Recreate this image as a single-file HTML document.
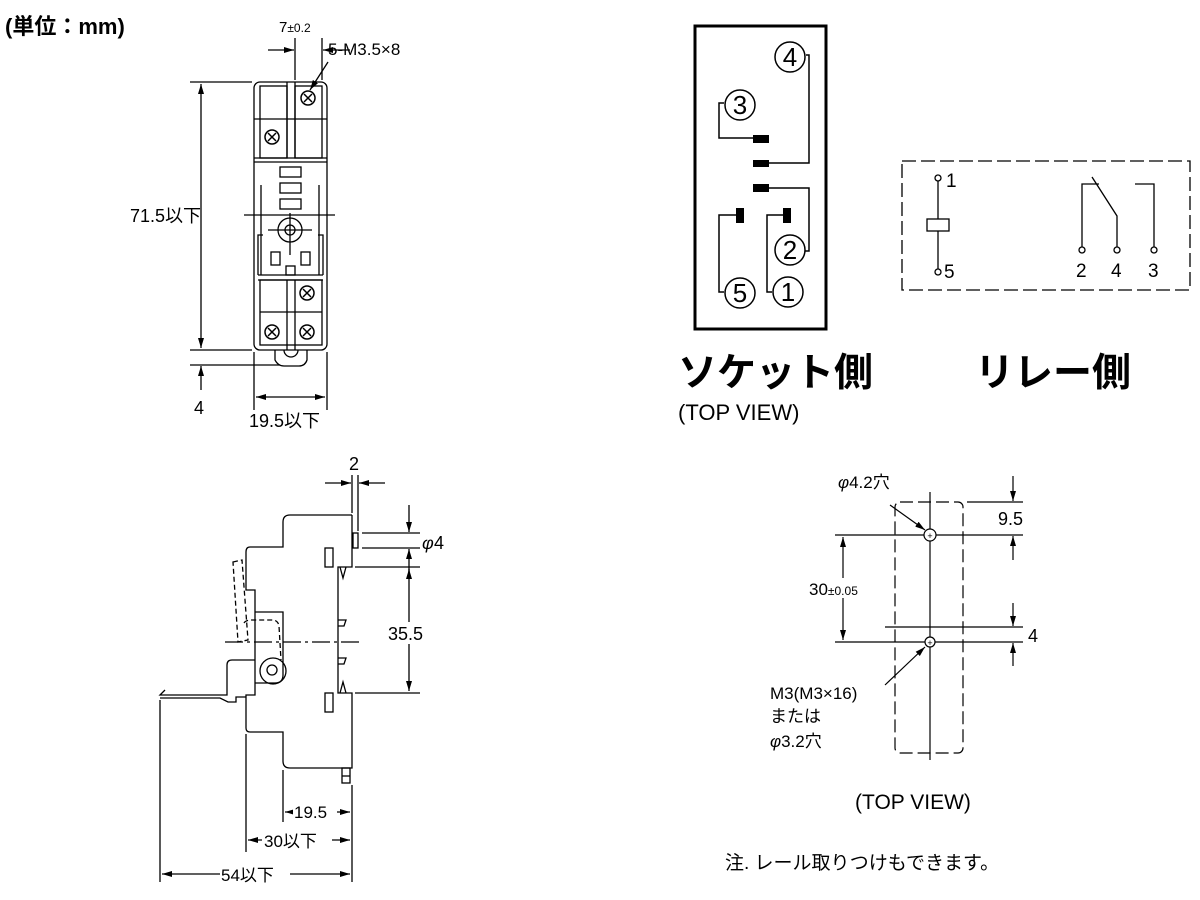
<!DOCTYPE html>
<html><head><meta charset="utf-8"><style>
html,body{margin:0;padding:0;background:#fff;width:1200px;height:900px;overflow:hidden}
svg{display:block}
text{font-family:"Liberation Sans","Noto Sans CJK JP",sans-serif;fill:#000}
</style></head><body>
<svg width="1200" height="900" viewBox="0 0 1200 900" xmlns="http://www.w3.org/2000/svg">
<defs>
<marker id="a" viewBox="0 0 10 6" refX="10" refY="3" markerWidth="10" markerHeight="6" orient="auto-start-reverse" markerUnits="userSpaceOnUse"><path d="M0,0 L10,3 L0,6 z" fill="#000"/></marker>
<g id="scr"><circle r="7" fill="#fff" stroke="#000" stroke-width="1.5"/><path d="M-4,-4 L4,4 M-4,4 L4,-4" stroke="#000" stroke-width="1.5"/></g>
</defs>
<g fill="none" stroke="#000" stroke-width="1.3">
<rect x="254" y="82" width="73" height="268" rx="6"/>
<line x1="254" y1="119" x2="327" y2="119"/>
<line x1="254" y1="158" x2="327" y2="158"/>
<line x1="254" y1="162" x2="327" y2="162"/>
<rect x="260" y="86" width="27" height="72"/>
<rect x="295" y="86" width="27" height="72"/>
<rect x="280" y="167" width="21" height="10"/>
<rect x="280" y="183" width="21" height="10"/>
<rect x="280" y="199" width="21" height="10"/>
<line x1="261" y1="185" x2="261" y2="275"/><line x1="319" y1="185" x2="319" y2="275"/>
<path d="M258,275 V235 H263 M323,275 V235 H318"/>
<circle cx="290" cy="230" r="12"/><circle cx="290" cy="230" r="5"/>
<line x1="290" y1="213" x2="290" y2="255"/><line x1="268" y1="230" x2="312" y2="230"/>
<line x1="244" y1="215" x2="335" y2="215"/>
<rect x="271" y="252" width="9" height="13"/><rect x="301" y="252" width="9" height="13"/>
<rect x="286" y="266" width="9" height="9"/>
<line x1="258" y1="275" x2="323" y2="275"/><line x1="258" y1="280" x2="323" y2="280"/>
<line x1="287" y1="280" x2="287" y2="350"/><line x1="295" y1="280" x2="295" y2="350"/>
<line x1="287" y1="82" x2="287" y2="158"/><line x1="295" y1="82" x2="295" y2="158"/>
<line x1="260" y1="312" x2="322" y2="312"/>
<rect x="260" y="280" width="62" height="65"/>
<path d="M275,350 V360 Q278,366 284,366 H299 Q305,366 307,360 V350"/>
<path d="M284,350 A7,7 0 0 0 298,350"/>
<line x1="190" y1="82" x2="252" y2="82"/><line x1="190" y1="350" x2="252" y2="350"/>
<line x1="190" y1="365" x2="280" y2="365"/>
<line x1="201" y1="84" x2="201" y2="348" marker-start="url(#a)" marker-end="url(#a)"/>
<line x1="201" y1="390" x2="201" y2="366" marker-end="url(#a)"/>
<line x1="254" y1="352" x2="254" y2="410"/><line x1="327" y1="352" x2="327" y2="410"/>
<line x1="256" y1="397" x2="325" y2="397" marker-start="url(#a)" marker-end="url(#a)"/>
<line x1="295" y1="38" x2="295" y2="80"/><line x1="322" y1="38" x2="322" y2="80"/>
<line x1="268" y1="50" x2="294" y2="50" marker-end="url(#a)"/>
<line x1="350" y1="50" x2="323" y2="50" marker-end="url(#a)"/>
<line x1="328" y1="62" x2="310" y2="90" marker-end="url(#a)"/>
</g>
<use href="#scr" x="308" y="98"/><use href="#scr" x="272" y="137"/>
<use href="#scr" x="307" y="293"/><use href="#scr" x="272" y="332"/><use href="#scr" x="307" y="332"/>
<text x="5" y="34" font-size="22" font-weight="bold">(単位：mm)</text>
<text x="279" y="32" font-size="15">7<tspan font-size="12">±0.2</tspan></text>
<text x="328" y="55" font-size="17">5-M3.5×8</text>
<text x="130" y="222" font-size="18">71.5以下</text>
<text x="194" y="414" font-size="18">4</text>
<text x="249" y="427" font-size="18">19.5以下</text>

<g fill="none" stroke="#000" stroke-width="1.3">
<path d="M352,515 H290 Q283,515 283,522 V547 H250 Q246,547 246,552 V590 H255 V612"/>
<path d="M352,515 V567 H338 V693 H352 V768 H290 Q283,768 283,761 V732 H250 Q246,732 246,728 V695 H255 V683"/>
<path d="M255,612 H283 V675 Q283,683 275,683 H255"/>
<line x1="255" y1="612" x2="255" y2="683"/>
<circle cx="273" cy="671" r="13"/><circle cx="272" cy="670" r="5"/>
<path d="M255,660 H232 Q227,660 227,665 V695 H160 L165,690"/>
<path d="M160,698 H220 L228,702 H236 V697 H246"/>
<path d="M233,562 L242,560 L248,640 L238,642 Z M244,623 Q246,620 252,620 H272 Q278,620 279,626 L281,660" stroke-dasharray="5,3"/>
<line x1="225" y1="642" x2="360" y2="642" stroke-dasharray="18,4,3,4"/>
<rect x="353" y="533" width="5" height="15"/>
<rect x="325" y="548" width="8" height="19"/><rect x="325" y="693" width="8" height="19"/>
<path d="M340,567 L343,578 L346,567 M338,620 H346 L344,626 H338 M338,658 H346 L344,664 H338 M340,693 L343,682 L346,693"/>
<rect x="342" y="768" width="8" height="15"/><line x1="342" y1="776" x2="350" y2="776"/>
<line x1="352" y1="475" x2="352" y2="513"/><line x1="358" y1="475" x2="358" y2="531"/>
<line x1="325" y1="483" x2="351" y2="483" marker-end="url(#a)"/>
<line x1="385" y1="483" x2="359" y2="483" marker-end="url(#a)"/>
<line x1="362" y1="533" x2="420" y2="533"/><line x1="362" y1="548" x2="420" y2="548"/>
<line x1="409" y1="505" x2="409" y2="532" marker-end="url(#a)"/>
<line x1="409" y1="575" x2="409" y2="549" marker-end="url(#a)"/>
<line x1="355" y1="567" x2="420" y2="567"/><line x1="355" y1="693" x2="420" y2="693"/>
<line x1="409" y1="569" x2="409" y2="691" marker-start="url(#a)" marker-end="url(#a)"/>
<line x1="283" y1="770" x2="283" y2="822"/><line x1="352" y1="785" x2="352" y2="882"/>
<line x1="246" y1="734" x2="246" y2="852"/><line x1="160" y1="700" x2="160" y2="882"/>
<line x1="285" y1="812" x2="350" y2="812" marker-start="url(#a)" marker-end="url(#a)"/>
<line x1="248" y1="840" x2="350" y2="840" marker-start="url(#a)" marker-end="url(#a)"/>
<line x1="162" y1="874" x2="350" y2="874" marker-start="url(#a)" marker-end="url(#a)"/>
</g>
<text x="349" y="470" font-size="18">2</text>
<text x="422" y="549" font-size="18" font-style="italic">φ</text><text x="434" y="549" font-size="18">4</text>
<rect x="386" y="622" width="46" height="22" fill="#fff"/>
<text x="388" y="640" font-size="18">35.5</text>
<rect x="293" y="803" width="44" height="18" fill="#fff"/><text x="294" y="818" font-size="17">19.5</text>
<rect x="262" y="830" width="70" height="20" fill="#fff"/><text x="264" y="847" font-size="17">30以下</text>
<rect x="220" y="864" width="70" height="20" fill="#fff"/><text x="221" y="881" font-size="17">54以下</text>

<g fill="none" stroke="#000" stroke-width="1.5">
<rect x="695" y="26" width="131" height="303" stroke-width="3"/>
<path d="M806,55 H809 V163 H768"/>
<path d="M724,103 H719 V138 H753"/>
<path d="M768,188 H809 V251 H805"/>
<path d="M736,215 H719 V292 H724"/>
<path d="M783,215 H767 V292 H772"/>
<circle cx="790" cy="57" r="15"/><circle cx="740" cy="105" r="15"/>
<circle cx="790" cy="250" r="15"/><circle cx="740" cy="293" r="15"/><circle cx="788" cy="292" r="15"/>
</g>
<g fill="#000">
<rect x="753" y="135" width="16" height="8"/><rect x="753" y="160" width="16" height="7"/>
<rect x="753" y="184" width="16" height="8"/>
<rect x="736" y="208" width="8" height="15"/><rect x="783" y="208" width="8" height="15"/>
</g>
<g font-size="26" text-anchor="middle">
<text x="790" y="66">4</text><text x="740" y="114">3</text><text x="790" y="259">2</text><text x="740" y="302">5</text><text x="788" y="301">1</text>
</g>
<text x="678" y="386" font-size="39" font-weight="bold">ソケット側</text>
<text x="975" y="386" font-size="39" font-weight="bold">リレー側</text>
<text x="678" y="420" font-size="22">(TOP VIEW)</text>

<g fill="none" stroke="#000" stroke-width="1.3">
<rect x="902" y="161" width="288" height="129" stroke-dasharray="14,5"/>
<line x1="938" y1="181" x2="938" y2="269"/>
<rect x="927" y="219" width="22" height="12" fill="#fff"/>
<circle cx="938" cy="178" r="3" fill="#fff"/><circle cx="938" cy="272" r="3" fill="#fff"/>
<path d="M1082,247 V184 H1099 M1092,177 L1117,216 V247 M1135,184 H1154 V247"/>
<circle cx="1082" cy="250" r="3" fill="#fff"/><circle cx="1117" cy="250" r="3" fill="#fff"/><circle cx="1154" cy="250" r="3" fill="#fff"/>
</g>
<g font-size="19">
<text x="946" y="187">1</text><text x="944" y="278">5</text>
<text x="1076" y="277">2</text><text x="1111" y="277">4</text><text x="1148" y="277">3</text>
</g>

<g fill="none" stroke="#000" stroke-width="1.2">
<rect x="895" y="502" width="68" height="251" rx="5" stroke-dasharray="13,5"/>
<line x1="930" y1="492" x2="930" y2="760"/>
<line x1="835" y1="535" x2="1023" y2="535"/>
<line x1="835" y1="642" x2="1023" y2="642"/>
<line x1="885" y1="627" x2="1023" y2="627"/>
<line x1="967" y1="502" x2="1023" y2="502"/>
<circle cx="930" cy="535" r="6" fill="#fff"/><circle cx="930" cy="642" r="5" fill="#fff"/>
<line x1="1013" y1="476" x2="1013" y2="501" marker-end="url(#a)"/>
<line x1="1013" y1="560" x2="1013" y2="536" marker-end="url(#a)"/>
<line x1="843" y1="537" x2="843" y2="640" marker-start="url(#a)" marker-end="url(#a)"/>
<line x1="1013" y1="603" x2="1013" y2="626" marker-end="url(#a)"/>
<line x1="1013" y1="666" x2="1013" y2="643" marker-end="url(#a)"/>
<line x1="890" y1="505" x2="925" y2="530" marker-end="url(#a)"/>
<line x1="885" y1="685" x2="925" y2="647" marker-end="url(#a)"/>
</g>
<text x="930" y="539" font-size="9" text-anchor="middle">+</text>
<text x="930" y="646" font-size="9" text-anchor="middle">+</text>
<rect x="806" y="578" width="80" height="20" fill="#fff"/>
<text x="809" y="595" font-size="17">30<tspan font-size="12">±0.05</tspan></text>
<text x="838" y="488" font-size="17"><tspan font-style="italic">φ</tspan>4.2穴</text>
<text x="998" y="525" font-size="18">9.5</text>
<text x="1028" y="642" font-size="18">4</text>
<text x="770" y="699" font-size="17">M3(M3×16)</text>
<text x="770" y="722" font-size="17">または</text>
<text x="770" y="747" font-size="17"><tspan font-style="italic">φ</tspan>3.2穴</text>
<text x="855" y="809" font-size="21">(TOP VIEW)</text>
<text x="725" y="869" font-size="19">注. レール取りつけもできます。</text>
</svg>
</body></html>
